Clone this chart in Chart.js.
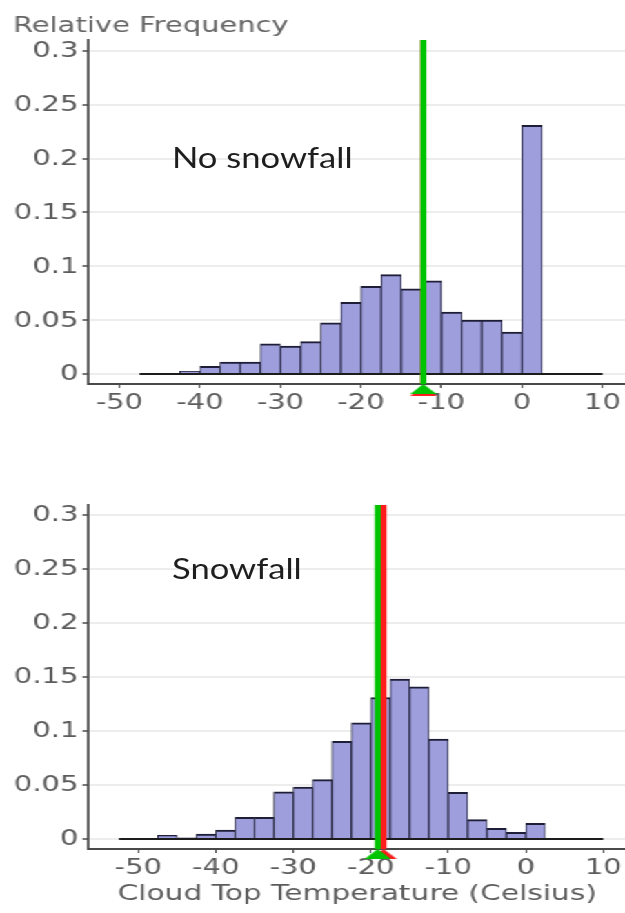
<!DOCTYPE html>
<html><head><meta charset="utf-8">
<script src="https://cdn.jsdelivr.net/npm/chart.js@4/dist/chart.umd.min.js"></script>
<style>
html,body{margin:0;padding:0;background:#fff;overflow:hidden;width:625px;height:913px}
#stretch{position:absolute;left:0;top:0;width:453px;transform:scaleX(1.37969);transform-origin:0 0}
#stretch canvas{display:block}
.note{position:absolute;left:172px;font-family:Lato,'Open Sans',sans-serif;color:#1e1e1e;white-space:nowrap;line-height:1;transform-origin:0 0}
</style></head><body>
<div id="stretch"><canvas id="c1" width="460" height="440"></canvas><canvas id="c2" width="460" height="473"></canvas></div>
<div class="note" id="n1" style="top:142px;font-size:29px"></div>
<div class="note" id="n2" style="top:553px;font-size:29px"></div>
<script>
// ---- data ----
const binWidth = 2.5;
const noSnowBinCenters = [-46.25,-43.75,-41.25,-38.75,-36.25,-33.75,-31.25,-28.75,-26.25,-23.75,-21.25,-18.75,-16.25,-13.75,-11.25,-8.75,-6.25,-3.75,-1.25,1.25,3.75,6.25,8.75];
const noSnowFreq = [0,0,0.0025,0.007,0.011,0.011,0.028,0.026,0.030,0.0475,0.0666,0.0813,0.0923,0.079,0.0865,0.0574,0.050,0.050,0.039,0.231,0,0,0];
const snowBinCenters = [-51.25,-48.75,-46.25,-43.75,-41.25,-38.75,-36.25,-33.75,-31.25,-28.75,-26.25,-23.75,-21.25,-18.75,-16.25,-13.75,-11.25,-8.75,-6.25,-3.75,-1.25,1.25,3.75,6.25,8.75];
const snowFreq = [0,0,0.0034,0.001,0.0046,0.0083,0.020,0.020,0.0437,0.048,0.055,0.0905,0.1075,0.131,0.148,0.141,0.0925,0.0433,0.018,0.010,0.0062,0.0145,0,0,0];
const noSnowMeanGreen = -12.25;
const noSnowMeanRed = -12.25;
const snowMeanGreen = -19.10;
const snowMeanRed = -18.35;
const xTickValues = [-50,-40,-30,-20,-10,0,10];
const xTickLabels = ['-50','-40','-30','-20','-10','0','10'];
const yTickValues = [0,0.05,0.1,0.15,0.2,0.25,0.3];
const yTickLabels = ['0','0.05','0.1','0.15','0.2','0.25','0.3'];
const yAxisTitle = 'Relative Frequency';
const xAxisTitle = 'Cloud Top Temperature (Celsius)';
const noSnowNote = 'No snowfall';
const snowNote = 'Snowfall';

// ---- styling ----
const S = 625/453;               // horizontal stretch of the picture
const px = v => v / S;
const axisColor = '#4a4a4a', tickText = '#5c5c5c', gridColor = '#ededed';
const barFill = '#9e9edc', barEdge = '#1e1e38';
const green = '#00c400', red = '#ff1c1c';
const tickFont = {family:'DejaVu Sans', size:21};

function makeTri(color, dy) {
  const w = 19, h = 10;
  const c = document.createElement('canvas');
  c.width = 21; c.height = 2 * (h + dy) + 2;
  const g = c.getContext('2d');
  const cy = c.height / 2;
  g.fillStyle = color;
  g.beginPath();
  g.moveTo(c.width / 2, cy + dy);
  g.lineTo(c.width / 2 + w / 2, cy + dy + h);
  g.lineTo(c.width / 2 - w / 2, cy + dy + h);
  g.closePath(); g.fill();
  return c;
}

function histChart(canvas, o) {
  const bars = o.centers.map((c, i) => ({x: c, y: o.freq[i]}));
  const lo = o.centers[0] - binWidth / 2, hi = o.centers[o.centers.length - 1] + binWidth / 2;
  const lineDs = (m, col, ord) => ({type:'line', data:[{x:m, y:o.yMax}, {x:m, y:o.yMin}], borderColor:col, borderWidth:px(6), pointRadius:0, order:ord});
  const triDs = (m, col, dy, ord) => ({type:'line', data:[{x:m, y:o.yMin}], pointStyle:makeTri(col, dy), pointRadius:5, showLine:false, clip:false, order:ord});
  const chart = new Chart(canvas, {
    type:'bar',
    data:{datasets:[
      triDs(o.green, green, 0, 1),
      triDs(o.red, red, o.redDy, 2),
      lineDs(o.green, green, 3),
      lineDs(o.red, red, 4),
      {type:'line', data:[{x:lo, y:0}, {x:hi, y:0}], borderColor:'#1c1c1c', borderWidth:2, pointRadius:0, order:5},
      {type:'bar', data:bars, backgroundColor:barFill, borderColor:barEdge,
       borderWidth:{top:2, left:px(1.25), right:px(1.25), bottom:0}, borderSkipped:false,
       barPercentage:1, categoryPercentage:1, grouped:false, order:6}
    ]},
    options:{
      responsive:false, animation:false, devicePixelRatio:1, events:[],
      layout:{padding:o.padding},
      plugins:{legend:{display:false}, tooltip:{enabled:false},
        title:o.title ? {display:true, text:o.title, align:'start', color:'#666', font:{family:'DejaVu Sans', size:21, weight:'normal'}, padding:{top:14, bottom:0.8}} : {display:false}},
      scales:{
        x:{type:'linear', min:o.xMin, max:o.xMax, offset:false,
          grid:{display:true, offset:false, drawOnChartArea:false, drawTicks:true, tickLength:4, tickColor:axisColor, tickWidth:px(1.5)},
          border:{display:true, color:axisColor, width:2},
          afterBuildTicks:s => { s.ticks = xTickValues.map(v => ({value:v})); },
          ticks:{color:tickText, font:tickFont, padding:3, maxRotation:0, autoSkip:false, callback:(v, i) => xTickLabels[i]},
          afterFit:s => { s.height = o.xAxisH; },
          title:o.xTitle ? {display:true, text:o.xTitle, color:tickText, font:{family:'DejaVu Sans', size:21.5}, padding:{top:0, bottom:6}} : {display:false}
        },
        y:{type:'linear', min:o.yMin, max:o.yMax,
          grid:{color:gridColor, lineWidth:2, drawTicks:true, tickLength:4, tickColor:axisColor, tickWidth:1.5},
          border:{display:true, color:axisColor, width:px(2.5)},
          afterBuildTicks:s => { s.ticks = yTickValues.map(v => ({value:v})); },
          ticks:{color:tickText, font:tickFont, padding:3, labelOffset:1, callback:(v, i) => yTickLabels[i]},
          afterFit:s => { s.width = o.yAxisW; }
        }
      }
    }
  });
  // calibrate the x range so the value->pixel mapping matches the picture whatever the plot width is
  const L = chart.chartArea.left * S, R = chart.chartArea.right * S;
  chart.options.scales.x.min = (L - o.xPix0) / o.xPxPerUnit;
  chart.options.scales.x.max = (R - o.xPix0) / o.xPxPerUnit;
  chart.update('none');
  return chart;
}

histChart(document.getElementById('c1'), {
  centers:noSnowBinCenters, freq:noSnowFreq, green:noSnowMeanGreen, red:noSnowMeanRed, redDy:2,
  xMin:-53.9, xMax:12.8, xPix0:522.0, xPxPerUnit:8.051, yMin:-0.0093, yMax:0.3102,
  padding:{left:px(13), top:0, right:0, bottom:0}, yAxisW:px(75), xAxisH:56, title:yAxisTitle
});
histChart(document.getElementById('c2'), {
  centers:snowBinCenters, freq:snowFreq, green:snowMeanGreen, red:snowMeanRed, redDy:0,
  xMin:-56.49, xMax:12.8, xPix0:525.8, xPxPerUnit:7.75, yMin:-0.00925, yMax:0.3093,
  padding:{left:0, top:65, right:0, bottom:0}, yAxisW:px(88), xAxisH:64, xTitle:xAxisTitle
});

const n1 = document.getElementById('n1'), n2 = document.getElementById('n2');
n1.textContent = noSnowNote; n2.textContent = snowNote;
function fitNotes() {
  n1.style.transform = 'scaleX(' + (180 / n1.offsetWidth) + ')';
  n2.style.transform = 'scaleX(' + (130 / n2.offsetWidth) + ')';
}
fitNotes();
if (document.fonts) document.fonts.ready.then(fitNotes);
</script>
</body></html>
